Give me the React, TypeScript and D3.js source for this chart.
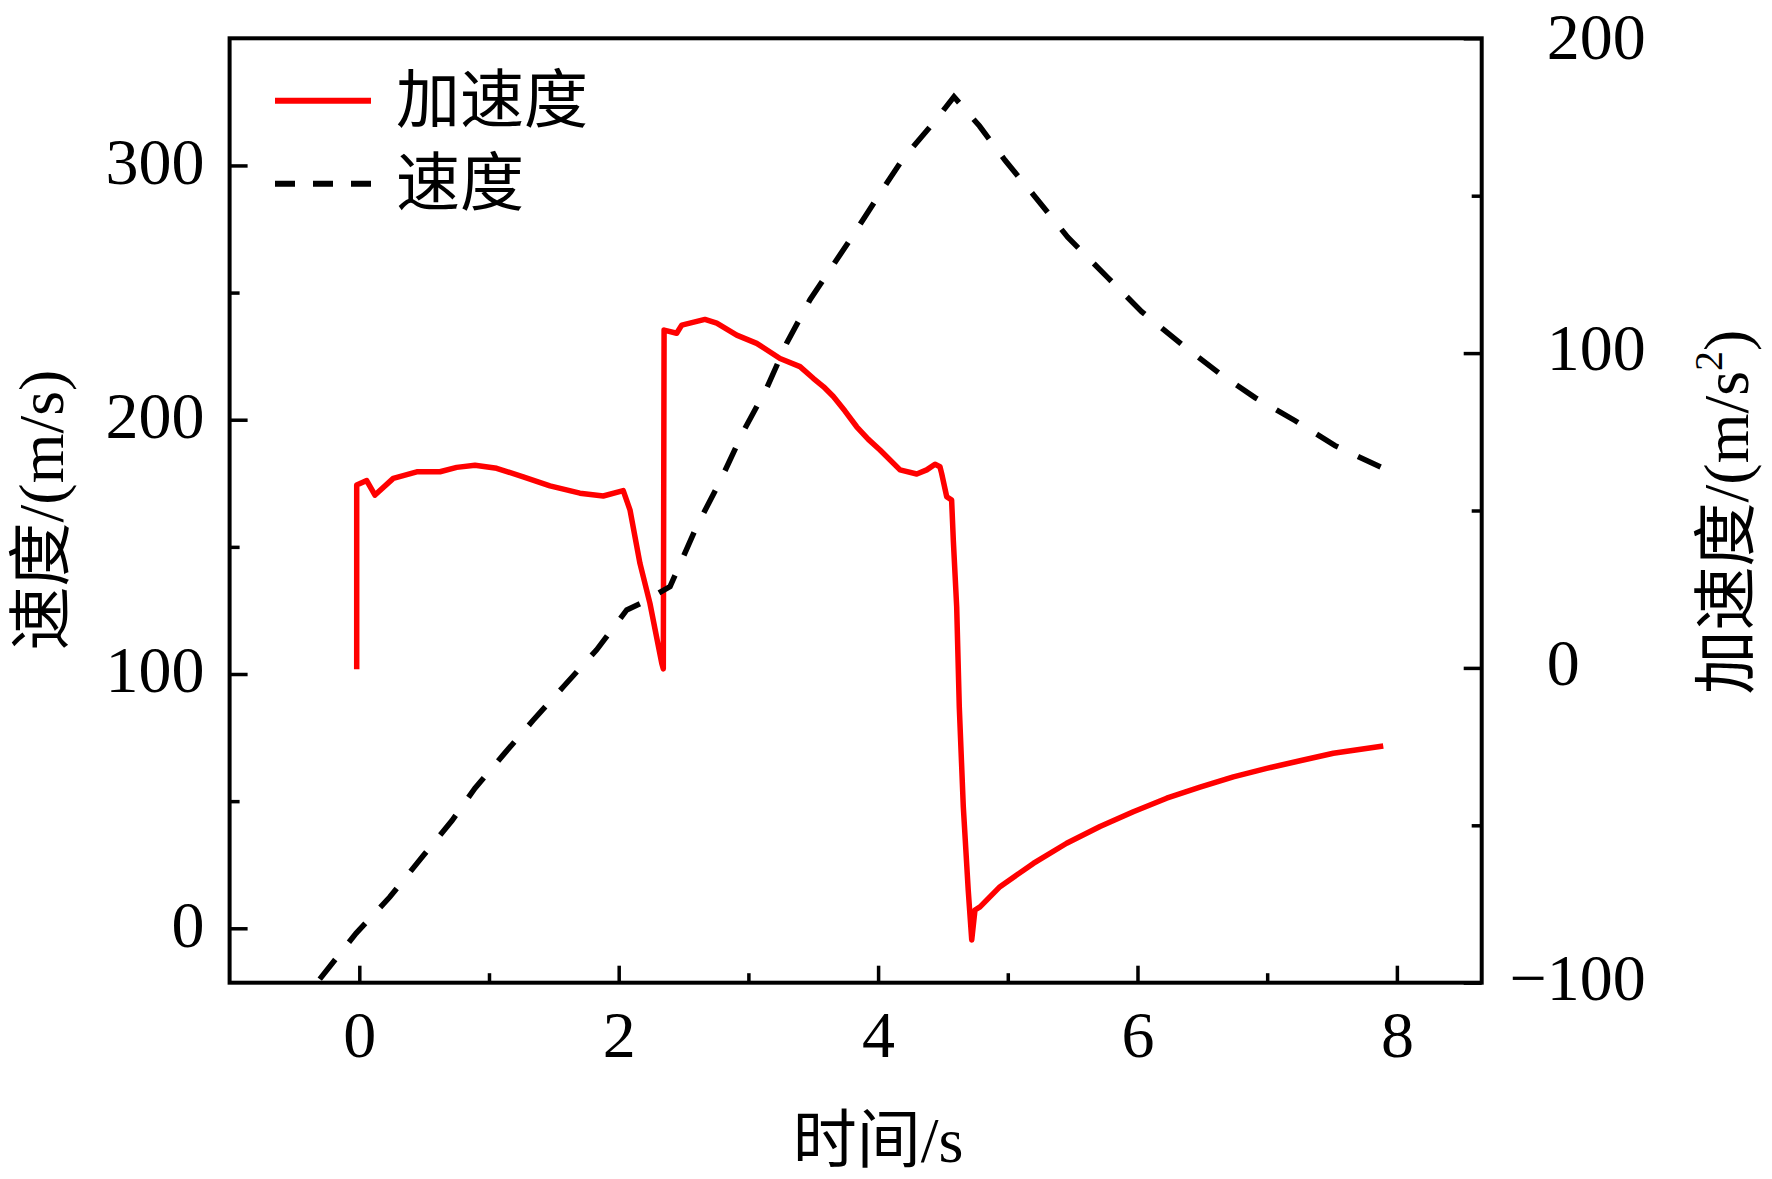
import React, { useEffect, useRef } from "react";
import * as d3 from "d3";

// 时间 / 加速度 (右轴)
const accTime = [
  -0.02, -0.02, 0.057, 0.121, 0.262, 0.443, 0.622, 0.751, 0.892, 1.059, 1.264,
  1.47, 1.701, 1.881, 2.035, 2.087, 2.164, 2.241, 2.332, 2.344, 2.35, 2.447,
  2.486, 2.665, 2.756, 2.91, 3.064, 3.244, 3.398, 3.5, 3.58, 3.655, 3.745,
  3.835, 3.925, 4.015, 4.169, 4.298, 4.375, 4.439, 4.477, 4.49, 4.529, 4.567,
  4.58, 4.606, 4.626, 4.657, 4.695, 4.722, 4.747, 4.786, 4.94, 5.197, 5.454,
  5.711, 5.968, 6.225, 6.482, 6.739, 6.996, 7.253, 7.51, 7.895,
];
const accValue = [
  -0.4, 58.1, 59.5, 54.9, 60.2, 62.3, 62.3, 63.7, 64.4, 63.4, 60.7, 57.8, 55.5,
  54.6, 56.3, 50.2, 33.2, 20.5, 1.5, -0.3, 107.3, 106.3, 108.9, 110.7, 109.5,
  105.7, 103.1, 98.3, 95.7, 92, 89.3, 86.2, 81.6, 76.6, 72.6, 69.2, 62.9, 61.6,
  62.9, 64.7, 63.9, 61.8, 54.4, 53.3, 40.6, 19.4, -12.3, -44.1, -70.6, -86.4,
  -76.9, -75.9, -69.5, -62.1, -55.7, -50.4, -45.7, -41.4, -37.9, -34.6, -31.9,
  -29.5, -27.1, -24.8,
];

// 时间 / 速度 (左轴)
const velTime = [
  -0.305, -0.025, 0.235, 0.497, 0.715, 0.892, 1.11, 1.342, 1.573, 1.83, 2.062,
  2.177, 2.396, 2.601, 2.781, 2.961, 3.141, 3.295, 3.475, 3.8, 4.015, 4.19,
  4.431, 4.585, 4.782, 4.979, 5.199, 5.462, 5.769, 6.032, 6.339, 6.646, 6.909,
  7.216, 7.523, 7.9,
];
const velValue = [
  -20, -2, 12.3, 28.8, 42.4, 55.1, 68.2, 81.9, 95, 109.5, 125.2, 127.9, 134.4,
  158, 175.7, 195.4, 212.4, 230.1, 247.2, 272, 289, 302.5, 317, 327, 315.5,
  302, 288.4, 271.8, 256, 242.5, 229.7, 217.7, 208.6, 199.6, 189.8, 180.8,
];

const xTicks = [0, 2, 4, 6, 8];
const xMinor = [1, 3, 5, 7];
const leftTicks = [0, 100, 200, 300];
const leftMinor = [50, 150, 250];
const rightTicks = [-100, 0, 100, 200];
const rightMinor = [-50, 50, 150];

const legendItems = ["加速度", "速度"];

const W = 1772;
const H = 1179;
const FONT = "'Liberation Serif', 'Noto Sans CJK SC', serif";

export default function App() {
  const svgRef = useRef<SVGSVGElement | null>(null);

  useEffect(() => {
    if (!svgRef.current) return;
    const svg = d3.select(svgRef.current);
    svg.selectAll("*").remove();

    const left = 229.6;
    const right = 1481.7;
    const top = 38.3;
    const bottom = 982.7;

    const x = d3.scaleLinear().domain([-1, 8.654]).range([left, right]);
    const yL = d3.scaleLinear().domain([-21.4, 350]).range([bottom, top]);
    const yR = d3.scaleLinear().domain([-100, 200]).range([bottom, top]);

    svg
      .append("rect")
      .attr("x", 0)
      .attr("y", 0)
      .attr("width", W)
      .attr("height", H)
      .attr("fill", "#fff");

    svg
      .append("clipPath")
      .attr("id", "plot-clip")
      .append("rect")
      .attr("x", left)
      .attr("y", top)
      .attr("width", right - left)
      .attr("height", bottom - top);

    const styleAxis = (g: d3.Selection<SVGGElement, unknown, null, undefined>) => {
      g.select(".domain").remove();
      g.selectAll("line").attr("stroke", "#000").attr("stroke-width", 3.5);
      g.selectAll("text")
        .attr("fill", "#000")
        .attr("font-family", FONT)
        .attr("font-size", 66);
    };

    // 底轴
    const gx = svg
      .append("g")
      .attr("transform", `translate(0,${bottom})`)
      .call(
        d3.axisBottom(x).tickValues(xTicks).tickSizeInner(-17).tickSizeOuter(0).tickPadding(27).tickFormat(d3.format("d"))
      );
    styleAxis(gx);
    const gxm = svg
      .append("g")
      .attr("transform", `translate(0,${bottom})`)
      .call(d3.axisBottom(x).tickValues(xMinor).tickSizeInner(-9.5).tickSizeOuter(0).tickFormat(() => ""));
    styleAxis(gxm);

    // 左轴
    const gl = svg
      .append("g")
      .attr("transform", `translate(${left},0)`)
      .call(
        d3.axisLeft(yL).tickValues(leftTicks).tickSizeInner(-18).tickSizeOuter(0).tickPadding(25).tickFormat(d3.format("d"))
      );
    styleAxis(gl);
    gl.selectAll("text").attr("dy", "0.27em");
    const glm = svg
      .append("g")
      .attr("transform", `translate(${left},0)`)
      .call(d3.axisLeft(yL).tickValues(leftMinor).tickSizeInner(-10).tickSizeOuter(0).tickFormat(() => ""));
    styleAxis(glm);

    // 右轴
    const gr = svg
      .append("g")
      .attr("transform", `translate(${right},0)`)
      .call(d3.axisRight(yR).tickValues(rightTicks).tickSizeInner(-18).tickSizeOuter(0).tickPadding(65));
    styleAxis(gr);
    gr.selectAll<SVGTextElement, number>("text")
      .attr("dy", (d) => (d === 200 ? "0.3em" : "0.25em"))
      .attr("x", (d) => (d < 0 ? 65 - 0.564 * 66 : 65));
    const grm = svg
      .append("g")
      .attr("transform", `translate(${right},0)`)
      .call(d3.axisRight(yR).tickValues(rightMinor).tickSizeInner(-10).tickSizeOuter(0).tickFormat(() => ""));
    styleAxis(grm);

    // 曲线
    const accLine = d3
      .line<number>()
      .x((_, i) => x(accTime[i]))
      .y((d) => yR(d));
    const velLine = d3
      .line<number>()
      .x((_, i) => x(velTime[i]))
      .y((d) => yL(d));

    const plot = svg.append("g").attr("clip-path", "url(#plot-clip)");
    plot
      .append("path")
      .attr("d", accLine(accValue))
      .attr("fill", "none")
      .attr("stroke", "#ff0000")
      .attr("stroke-width", 5.5)
      .attr("stroke-linejoin", "round");
    plot
      .append("path")
      .attr("d", velLine(velValue))
      .attr("fill", "none")
      .attr("stroke", "#000")
      .attr("stroke-width", 5.5)
      .attr("stroke-dasharray", "25 22");

    // 边框
    svg
      .append("rect")
      .attr("x", left)
      .attr("y", top)
      .attr("width", right - left)
      .attr("height", bottom - top)
      .attr("fill", "none")
      .attr("stroke", "#000")
      .attr("stroke-width", 4);

    // 图例
    const legend = svg.append("g");
    const rows = [
      { y: 100.7, color: "#ff0000", dash: null as string | null },
      { y: 183.7, color: "#000", dash: "20 18" },
    ];
    rows.forEach((r, i) => {
      const ln = legend
        .append("line")
        .attr("x1", 275)
        .attr("x2", 371)
        .attr("y1", r.y)
        .attr("y2", r.y)
        .attr("stroke", r.color)
        .attr("stroke-width", 6);
      if (r.dash) ln.attr("stroke-dasharray", r.dash);
      legend
        .append("text")
        .attr("x", 396)
        .attr("y", r.y + 21)
        .attr("font-family", FONT)
        .attr("font-size", 64)
        .attr("fill", "#000")
        .text(legendItems[i]);
    });

    // 坐标轴标题
    svg
      .append("text")
      .attr("x", 878)
      .attr("y", 1162)
      .attr("text-anchor", "middle")
      .attr("font-family", FONT)
      .attr("font-size", 64)
      .text("时间/s");

    svg
      .append("text")
      .attr("transform", "translate(63,510) rotate(-90)")
      .attr("text-anchor", "middle")
      .attr("font-family", FONT)
      .attr("font-size", 64)
      .text("速度/(m/s)");

    const rt = svg
      .append("text")
      .attr("transform", "translate(1748,512) rotate(-90)")
      .attr("text-anchor", "middle")
      .attr("font-family", FONT)
      .attr("font-size", 64);
    rt.append("tspan").text("加速度/(m/s");
    rt.append("tspan").attr("font-size", 40).attr("dy", -26).text("2");
    rt.append("tspan").attr("dy", 26).text(")");
  }, []);

  return (
    <svg
      ref={svgRef}
      width={W}
      height={H}
      style={{ position: "absolute", left: 0, top: 0, display: "block" }}
    />
  );
}
